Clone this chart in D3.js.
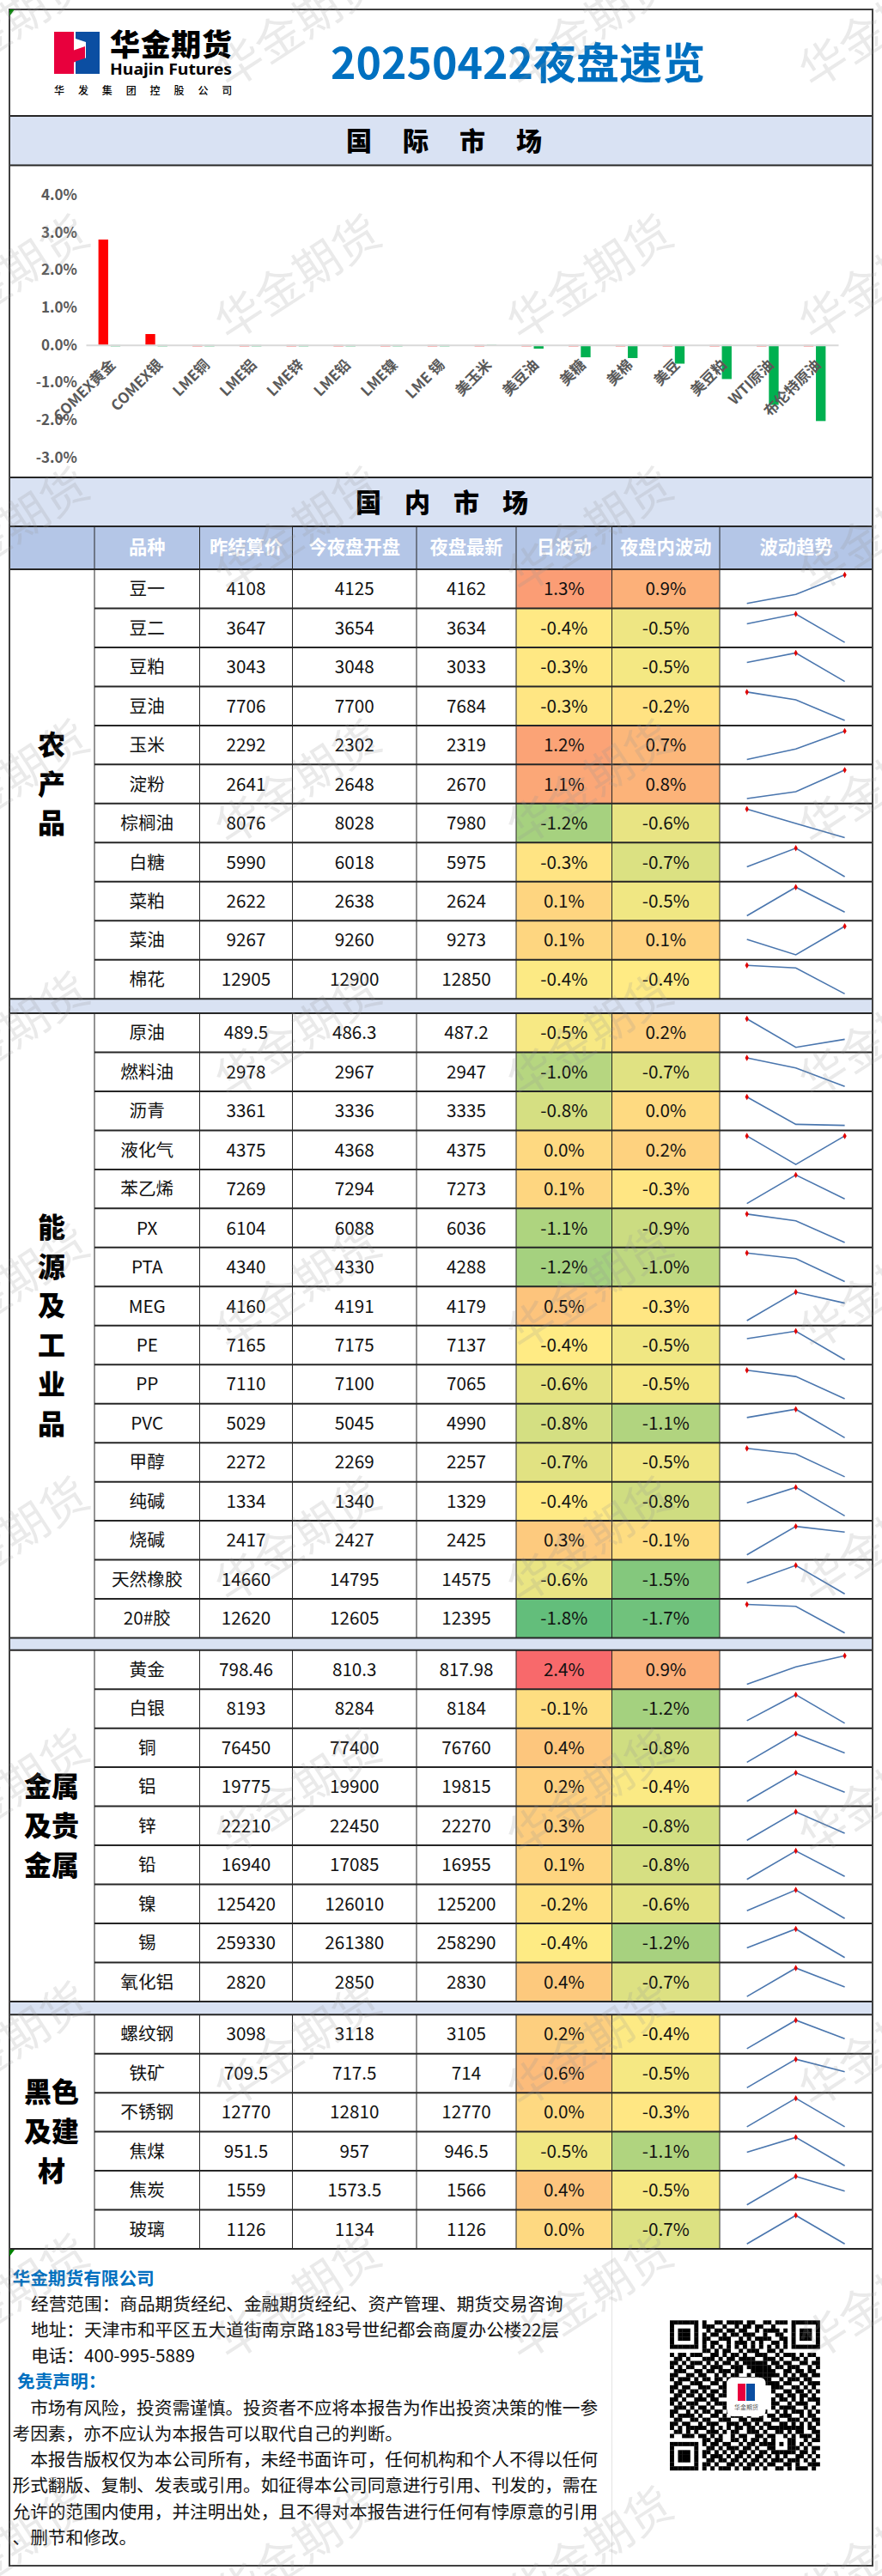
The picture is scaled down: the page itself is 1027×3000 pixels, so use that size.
<!DOCTYPE html>
<html>
<head>
<meta charset="utf-8">
<title>20250422夜盘速览</title>
<script src="https://cdn.jsdelivr.net/npm/d3@7"></script>
<style>
  body { margin: 0; background: #fff; }
  text { font-family: "Noto Sans CJK SC", "Noto Sans", sans-serif; }
</style>
</head>
<body>
<div id="chart"></div>
<script>
// international market
var intlNames = ['COMEX黄金','COMEX银','LME铜','LME铝','LME锌','LME铅','LME镍','LME 锡','美玉米','美豆油','美糖','美棉','美豆','美豆粕','WTI原油','布伦特原油'];
var intlUp = [2.81,0.29,0,0,0,0,0,0,0,0,0,0,0,0,0,0];
var intlDown = [0,0,0,0,0,0,0,0,-0.03,-0.1,-0.33,-0.35,-0.5,-0.91,-1.6,-2.03];
var yTicks = [4,3,2,1,0,-1,-2,-3];

// domestic market
var groupNames = [['农','产','品'],['能','源','及','工','业','品'],['金属','及贵','金属'],['黑色','及建','材']];
var groupSizes = [11,16,9,6];
var headers = ['品种','昨结算价','今夜盘开盘','夜盘最新','日波动','夜盘内波动','波动趋势'];
var products = ['豆一','豆二','豆粕','豆油','玉米','淀粉','棕榈油','白糖','菜粕','菜油','棉花',
  '原油','燃料油','沥青','液化气','苯乙烯','PX','PTA','MEG','PE','PP','PVC','甲醇','纯碱','烧碱','天然橡胶','20#胶',
  '黄金','白银','铜','铝','锌','铅','镍','锡','氧化铝',
  '螺纹钢','铁矿','不锈钢','焦煤','焦炭','玻璃'];
var prevSettle = [4108,3647,3043,7706,2292,2641,8076,5990,2622,9267,12905,
  489.5,2978,3361,4375,7269,6104,4340,4160,7165,7110,5029,2272,1334,2417,14660,12620,
  798.46,8193,76450,19775,22210,16940,125420,259330,2820,
  3098,709.5,12770,951.5,1559,1126];
var nightOpen = [4125,3654,3048,7700,2302,2648,8028,6018,2638,9260,12900,
  486.3,2967,3336,4368,7294,6088,4330,4191,7175,7100,5045,2269,1340,2427,14795,12605,
  810.3,8284,77400,19900,22450,17085,126010,261380,2850,
  3118,717.5,12810,957,1573.5,1134];
var nightLast = [4162,3634,3033,7684,2319,2670,7980,5975,2624,9273,12850,
  487.2,2947,3335,4375,7273,6036,4288,4179,7137,7065,4990,2257,1329,2425,14575,12395,
  817.98,8184,76760,19815,22270,16955,125200,258290,2830,
  3105,714,12770,946.5,1566,1126];
var dayChg = [1.3,-0.4,-0.3,-0.3,1.2,1.1,-1.2,-0.3,0.1,0.1,-0.4,
  -0.5,-1.0,-0.8,0.0,0.1,-1.1,-1.2,0.5,-0.4,-0.6,-0.8,-0.7,-0.4,0.3,-0.6,-1.8,
  2.4,-0.1,0.4,0.2,0.3,0.1,-0.2,-0.4,0.4,
  0.2,0.6,0.0,-0.5,0.4,0.0];
var nightChg = [0.9,-0.5,-0.5,-0.2,0.7,0.8,-0.6,-0.7,-0.5,0.1,-0.4,
  0.2,-0.7,0.0,0.2,-0.3,-0.9,-1.0,-0.3,-0.5,-0.5,-1.1,-0.5,-0.8,-0.1,-1.5,-1.7,
  0.9,-1.2,-0.8,-0.4,-0.8,-0.8,-0.6,-1.2,-0.7,
  -0.4,-0.5,-0.3,-1.1,-0.5,-0.7];

var footerHead = '华金期货有限公司';
var footerInfo = ['经营范围：商品期货经纪、金融期货经纪、资产管理、期货交易咨询','地址：天津市和平区五大道街南京路183号世纪都会商厦办公楼22层','电话：400-995-5889'];
var footerNote = '免责声明：';
var footerBody = ['　市场有风险，投资需谨慎。投资者不应将本报告为作出投资决策的惟一参','考因素，亦不应认为本报告可以取代自己的判断。','　本报告版权仅为本公司所有，未经书面许可，任何机构和个人不得以任何','形式翻版、复制、发表或引用。如征得本公司同意进行引用、刊发的，需在','允许的范围内使用，并注明出处，且不得对本报告进行任何有悖原意的引用','、删节和修改。'];

// qr code modules, read by eye
var qrRows = [
'1111111010011011110110011011101111111',
'1000001011100100101101100100001000001',
'1011101001011011011001011110101011101',
'1011101010110101101110010011001011101',
'1011101011001110010101111001101011101',
'1000001010110010111010100110101000001',
'1111111010101010101010101010101111111',
'0000000011010110010111001101000000000',
'1011011100110101101001110010111010110',
'0110100011101011011110011101001101001',
'1101011101010110101111110110110011011',
'1010110010111001110111111011011100101',
'0111001101101110110011111100110110110',
'1100110110010101100101111110101011011',
'1011101011011010011010111001011101100',
'0110011100110101100001011110110010111',
'1101100111001100000000000111001101010',
'1011011010110100000000000100110110101',
'0110110101101100000000000011011011010',
'1101001110110000000000000101101010111',
'1010111001011100000000000110010111001',
'0111010110100100000000000101111001010',
'1100101011011011001011010010101110101',
'1011110100110101110100101101110010110',
'0110011011001110011011100110011101011',
'1101100101110011101101011001101010101',
'1010111110101010110110101111111110110',
'0110101001110101100111010011010110011',
'1001110110101001011001101100101011101',
'0000000011011001101011010100011001011',
'1111111010110110010110111101011010100',
'1000001001101011101101001100011101011',
'1011101011010101011010110111111011010',
'1011101010111010110101101010100110101',
'1011101001101101101011010111011101010',
'1000001011010011010110101100110100111',
'1111111010101110101101010011010111010'
];

// layout
var W = 1027, H = 3000;
var left = 11, right = 1016;
var colX = [110,232.5,340.5,485,601,712.5,838,1016];
var sectionTop = [663,1180,1921.7,2346.2];
var rowH = 45.47;
var lineCol = '#262626', borderCol = '#404040';

var svg = d3.select('#chart').append('svg')
    .attr('width', W).attr('height', H)
    .style('display', 'block');

// ---- header ----
svg.append('path').attr('d', 'M63,37H86V58.5L99,54V69L86,72.5V86H63Z').attr('fill', '#E8003D');
svg.append('path').attr('d', 'M88,37H116V86H88V71.5L100,67.5V49L88,45Z').attr('fill', '#0B4EA2');
svg.append('text').attr('x', 128).attr('y', 65).attr('textLength', 142)
    .attr('font-size', 35).attr('font-weight', 900).text('华金期货');
svg.append('text').attr('x', 128).attr('y', 87).attr('textLength', 142)
    .attr('font-size', 18).attr('font-weight', 700).attr('lengthAdjust', 'spacingAndGlyphs')
    .style('font-family', '"Noto Sans"').text('Huajin Futures');
svg.append('text').attr('x', 63).attr('y', 110).attr('font-size', 12).attr('font-weight', 500)
    .attr('letter-spacing', 15.9).text('华发集团控股公司');
svg.append('text').attr('x', 603).attr('y', 92).attr('text-anchor', 'middle')
    .attr('font-size', 50).attr('font-weight', 700).attr('fill', '#0070C0').text('20250422夜盘速览');

// ---- bands ----
var bands = [[135,57.5],[556,57],[1163.3,16.7],[1907.7,14],[2331,15.2]];
svg.selectAll('.band').data(bands).enter().append('rect')
    .attr('class', 'band').attr('x', left).attr('y', function(d) { return d[0]; })
    .attr('width', right - left).attr('height', function(d) { return d[1]; })
    .attr('fill', '#D9E2F3');
svg.append('text').attr('x', 403).attr('y', 175).attr('font-size', 30).attr('font-weight', 900)
    .attr('letter-spacing', 36).text('国际市场');
svg.append('text').attr('x', 414).attr('y', 596).attr('font-size', 30).attr('font-weight', 900)
    .attr('letter-spacing', 27).text('国内市场');

// ---- international bar chart ----
var y = d3.scaleLinear().domain([-3, 4]).range([532.7, 227]);
var x0 = d3.scaleBand().domain(intlNames).range([100, 976]);
var x1 = d3.scaleBand().domain(['up', 'down']).range([0, x0.bandwidth()])
    .paddingInner(0.2).paddingOuter(1.03);

var barData = intlNames.map(function(n, i) { return {name: n, up: intlUp[i], down: intlDown[i]}; });
var barColor = {up: '#FF0000', down: '#00B050'};
['up', 'down'].forEach(function(s) {
    svg.selectAll('.bar-' + s).data(barData).enter().append('rect')
        .attr('class', 'bar-' + s)
        .attr('x', function(d) { return x0(d.name) + x1(s); })
        .attr('width', x1.bandwidth())
        .attr('y', function(d) { return d[s] > 0 ? y(d[s]) : y(0); })
        // zero values still show as a faint dash, like the source
        .attr('height', function(d) { return d[s] === 0 ? 2 : Math.abs(y(d[s]) - y(0)); })
        .attr('fill', barColor[s])
        .attr('opacity', function(d) { return d[s] === 0 ? 0.45 : 1; });
});

var axisY = svg.append('g').attr('transform', 'translate(90,0)')
    .call(d3.axisLeft(y).tickValues(yTicks).tickSize(0).tickPadding(0)
        .tickFormat(function(d) { return d.toFixed(1) + '%'; }));
axisY.select('.domain').remove();
axisY.selectAll('text').attr('fill', '#595959').attr('font-size', 17).attr('font-weight', 700)
    .style('font-family', '"Noto Sans CJK SC"');

var axisX = svg.append('g').attr('transform', 'translate(0,' + y(0) + ')')
    .call(d3.axisBottom(x0).tickSize(0).tickPadding(0));
axisX.select('.domain').attr('stroke', '#D9D9D9').attr('stroke-width', 2);
axisX.selectAll('text')
    .attr('fill', '#595959').attr('font-size', 17).attr('font-weight', 700)
    .style('font-family', '"Noto Sans CJK SC"')
    .attr('text-anchor', 'end')
    .attr('y', 0).attr('dy', '0.35em')
    .attr('transform', 'translate(4,20) rotate(-45)');

// ---- domestic table ----
var allVals = [];
prevSettle.forEach(function(p, i) {
    allVals.push((nightLast[i] / p - 1) * 100);
    allVals.push((nightLast[i] / nightOpen[i] - 1) * 100);
});
var ext = d3.extent(allVals);
var heat = d3.scaleLinear().domain([ext[0], d3.median(allVals), ext[1]])
    .range(['#63BE7B', '#FFEB84', '#F8696B']);

// header row
svg.append('rect').attr('x', left).attr('y', 613).attr('width', right - left).attr('height', 50).attr('fill', '#B4C6E7');
headers.forEach(function(h, i) {
    svg.append('text').attr('x', (colX[i] + colX[i + 1]) / 2).attr('y', 645)
        .attr('text-anchor', 'middle').attr('font-size', 21.3).attr('font-weight', 700)
        .attr('fill', '#fff').text(h);
});

var sparkX = d3.scalePoint().domain([0, 1, 2]).range([869.7, 983.6]);
var rowIdx = 0;
groupSizes.forEach(function(size, g) {
    var top = sectionTop[g];
    var rowsHere = d3.range(size).map(function(k) { return rowIdx + k; });
    var rowY = function(i) { return top + (i - rowsHere[0]) * rowH; };

    // heat cells
    [[dayChg, 4, function(i) { return nightLast[i] / prevSettle[i]; }],
     [nightChg, 5, function(i) { return nightLast[i] / nightOpen[i]; }]].forEach(function(c) {
        svg.selectAll('.heat' + g + c[1]).data(rowsHere).enter().append('rect')
            .attr('class', 'heat' + g + c[1])
            .attr('x', colX[c[1]]).attr('y', rowY)
            .attr('width', colX[c[1] + 1] - colX[c[1]]).attr('height', rowH)
            .attr('fill', function(i) { return heat((c[2](i) - 1) * 100); });
    });

    // cell text
    var columns = [
        [products, 0], [prevSettle, 1], [nightOpen, 2], [nightLast, 3],
        [dayChg.map(function(v) { return v.toFixed(1) + '%'; }), 4],
        [nightChg.map(function(v) { return v.toFixed(1) + '%'; }), 5]
    ];
    columns.forEach(function(c) {
        svg.selectAll('.cell' + g + c[1]).data(rowsHere).enter().append('text')
            .attr('class', 'cell' + g + c[1])
            .attr('x', (colX[c[1]] + colX[c[1] + 1]) / 2)
            .attr('y', function(i) { return rowY(i) + rowH / 2 + 7.5; })
            .attr('text-anchor', 'middle').attr('font-size', 20.67).attr('fill', '#111')
            .text(function(i) { return c[0][i]; });
    });

    // sparklines: the three prices in each row
    rowsHere.forEach(function(i) {
        var pts = [prevSettle[i], nightOpen[i], nightLast[i]];
        var ext2 = d3.extent(pts);
        var sy = d3.scaleLinear().domain(ext2).range([rowY(i) + 39.7, rowY(i) + 6.5]);
        var line = d3.line().x(function(d, k) { return sparkX(k); }).y(function(d) { return sy(d); });
        svg.append('path').attr('d', line(pts)).attr('fill', 'none')
            .attr('stroke', '#4A76AE').attr('stroke-width', 1.6);
        pts.forEach(function(p, k) {
            if (p === ext2[1]) {
                svg.append('path').attr('d', d3.symbol().type(d3.symbolDiamond).size(16)())
                    .attr('transform', 'translate(' + sparkX(k) + ',' + sy(p) + ')')
                    .attr('fill', '#E00000');
            }
        });
    });

    // group label
    var midY = top + size * rowH / 2;
    var names = groupNames[g];
    names.forEach(function(t, k) {
        svg.append('text').attr('x', (left + colX[0]) / 2 - 0.5)
            .attr('y', midY + (k - (names.length - 1) / 2) * 45.7 + 11.5)
            .attr('text-anchor', 'middle').attr('font-size', 32).attr('font-weight', 900)
            .attr('fill', '#000').text(t);
    });

    // row lines
    svg.selectAll('.hline' + g).data(d3.range(size + 1)).enter().append('line')
        .attr('class', 'hline' + g)
        .attr('x1', function(k) { return (k === 0 || k === size) ? left : colX[0]; }).attr('x2', right)
        .attr('y1', function(k) { return top + k * rowH; })
        .attr('y2', function(k) { return top + k * rowH; })
        .attr('stroke', lineCol).attr('stroke-width', 2);

    // column lines
    colX.slice(0, 7).forEach(function(cx) {
        svg.append('line').attr('x1', cx).attr('x2', cx).attr('y1', top).attr('y2', top + size * rowH)
            .attr('stroke', lineCol).attr('stroke-width', 1);
    });

    rowIdx += size;
});

// header row lines
colX.slice(0, 7).forEach(function(cx) {
    svg.append('line').attr('x1', cx).attr('x2', cx).attr('y1', 613).attr('y2', 663)
        .attr('stroke', lineCol).attr('stroke-width', 1);
});
[135, 192.5, 556, 613].forEach(function(ly) {
    svg.append('line').attr('x1', left).attr('x2', right).attr('y1', ly).attr('y2', ly)
        .attr('stroke', lineCol).attr('stroke-width', 2);
});

// ---- footer ----
svg.append('line').attr('x1', colX[5]).attr('x2', colX[5]).attr('y1', 2620).attr('y2', 2988).attr('stroke', '#E4E4E4').attr('stroke-width', 1);
svg.append('text').attr('x', 14.5).attr('y', 2661).attr('font-size', 20.67).attr('font-weight', 700).attr('fill', '#0070C0').text(footerHead);
svg.selectAll('.info').data(footerInfo).enter().append('text').attr('class', 'info')
    .attr('x', 36).attr('y', function(d, i) { return 2690.5 + i * 30; })
    .attr('font-size', 20.67).attr('fill', '#111').text(function(d) { return d; });
svg.append('text').attr('x', 20).attr('y', 2781).attr('font-size', 20.67).attr('font-weight', 700).attr('fill', '#0070C0').text(footerNote);
svg.selectAll('.note').data(footerBody).enter().append('text').attr('class', 'note')
    .attr('x', 14.5).attr('y', function(d, i) { return 2811.5 + i * 30.3; })
    .attr('font-size', 20.67).attr('fill', '#111').text(function(d) { return d; });

// qr code
var qrSize = 4.72, qrX = 780, qrY = 2702.3;
var qrCells = [];
qrRows.forEach(function(r, ry) {
    r.split('').forEach(function(c, rx) { if (c === '1') qrCells.push([rx, ry]); });
});
svg.selectAll('.qr').data(qrCells).enter().append('rect').attr('class', 'qr')
    .attr('x', function(d) { return qrX + d[0] * qrSize; })
    .attr('y', function(d) { return qrY + d[1] * qrSize; })
    .attr('width', qrSize + 0.2).attr('height', qrSize + 0.2).attr('fill', '#000');
svg.append('rect').attr('x', 846.5).attr('y', 2769).attr('width', 45).attr('height', 45).attr('rx', 6).attr('fill', '#fff');
svg.append('rect').attr('x', 859).attr('y', 2776).attr('width', 9).attr('height', 20).attr('fill', '#E8003D');
svg.append('rect').attr('x', 869).attr('y', 2776).attr('width', 10).attr('height', 20).attr('fill', '#0B4EA2');
svg.append('text').attr('x', 869).attr('y', 2806).attr('text-anchor', 'middle').attr('font-size', 7).attr('fill', '#555').text('华金期货');

// ---- outer frame ----
svg.append('rect').attr('x', left).attr('y', 11).attr('width', right - left).attr('height', 2977)
    .attr('fill', 'none').attr('stroke', borderCol).attr('stroke-width', 2);
svg.append('path').attr('d', 'M11,11H17L11,19Z').attr('fill', '#008000');
svg.append('path').attr('d', 'M11,2620H17L11,2628Z').attr('fill', '#008000');

// ---- watermark ----
var wmX = [7, 347, 687, 1027];
var wmY = d3.range(30, 3100, 294);
wmY.forEach(function(wy) {
    wmX.forEach(function(wx) {
        svg.append('text').attr('text-anchor', 'middle').attr('dy', '0.35em')
            .attr('transform', 'translate(' + wx + ',' + wy + ') rotate(-33)')
            .attr('font-size', 54).attr('fill', '#969696').attr('fill-opacity', 0.2)
            .text('华金期货');
    });
});
</script>
</body>
</html>
